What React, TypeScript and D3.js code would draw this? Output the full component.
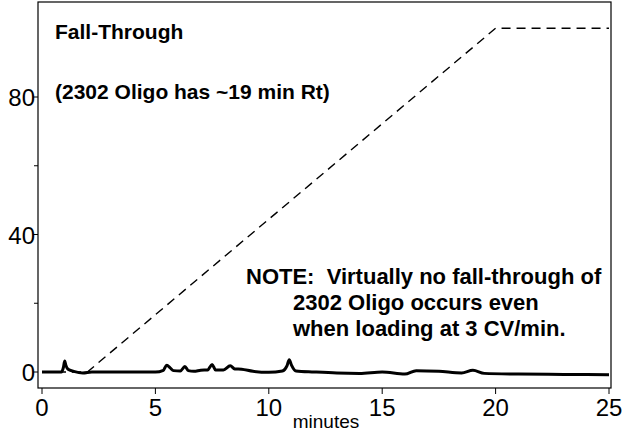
import React from "react";
import * as d3 from "d3";

const traceT = [0, 0.85, 0.95, 1.0, 1.05, 1.15, 1.4, 1.8, 2.2, 3, 4, 5, 5.35, 5.5, 5.65, 5.8, 6.1, 6.3, 6.45, 6.7, 7.0, 7.3, 7.5, 7.65, 8.0, 8.3, 8.5, 8.8, 9.3, 10, 10.6, 10.8, 10.9, 11.0, 11.2, 12, 13, 14, 15, 16, 16.5, 17.5, 18.5, 19, 19.5, 21, 23, 25];
const traceV = [0, 0, 1.5, 3.2, 2, 0.8, 0.2, -0.3, 0, 0, 0, 0, 0.5, 2, 1.2, 0.4, 0.3, 1.6, 0.4, 0.2, 0.5, 0.6, 2.2, 0.6, 0.6, 1.8, 0.9, 0.8, 0.2, -0.1, 0.3, 1.8, 3.6, 2.0, 0.3, 0, -0.3, -0.4, 0, -0.6, 0.4, 0.2, -0.3, 0.5, -0.4, -0.6, -0.7, -0.8];
const gradT = [0, 2, 20, 25];
const gradV = [0, 0, 100, 100];
const xTicks = [0, 5, 10, 15, 20, 25];
const yTicks = [0, 40, 80];
const yMinor = [20, 60];
const noteLines = ["NOTE:  Virtually no fall-through of", "2302 Oligo occurs even", "when loading at 3 CV/min."];

export default function App() {
  const L = 38, R = 611, T = 2, B = 388;
  const x = d3.scaleLinear().domain([0, 25]).range([42, 609]);
  const y = d3.scaleLinear().domain([0, 80]).range([372, 97]);
  const trace = d3.line<number>().x((_, i) => x(traceT[i])).y((_, i) => y(traceV[i])).curve(d3.curveMonotoneX)(traceV);
  const grad = d3.line<number>().x((_, i) => x(gradT[i])).y((_, i) => y(gradV[i]))(gradV);
  const font = "'Liberation Sans', Arial, sans-serif";
  return (
    <svg width={627} height={432} style={{ position: "absolute", left: 0, top: 0 }} fontFamily={font}>
      <rect x={L} y={T} width={R - L} height={B - T} fill="white" stroke="black" strokeWidth={1.2} />
      {xTicks.map(t => (
        <g key={t}>
          <line x1={x(t)} x2={x(t)} y1={B} y2={B + 6} stroke="black" />
          <text x={x(t)} y={416} fontSize={24} textAnchor="middle">{t}</text>
        </g>
      ))}
      {yTicks.map(t => (
        <g key={t}>
          <line x1={L} x2={L - 5} y1={y(t)} y2={y(t)} stroke="black" />
          <text x={L - 3} y={y(t) + 9} fontSize={24} textAnchor="end">{t}</text>
        </g>
      ))}
      {yMinor.map(t => <line key={t} x1={L} x2={L - 4} y1={y(t)} y2={y(t)} stroke="black" />)}
      <text x={326} y={428} fontSize={19} textAnchor="middle">minutes</text>
      <path d={grad!} fill="none" stroke="black" strokeWidth={1.4} strokeDasharray="9,6" />
      <path d={trace!} fill="none" stroke="black" strokeWidth={3} />
      <text x={55} y={39} fontSize={21} fontWeight="bold">Fall-Through</text>
      <text x={55} y={99} fontSize={21} fontWeight="bold">(2302 Oligo has ~19 min Rt)</text>
      {noteLines.map((s, i) => (
        <text key={i} x={i === 0 ? 246 : 293} y={284 + i * 26} fontSize={22} fontWeight="bold" style={{ whiteSpace: "pre" }}>{s}</text>
      ))}
    </svg>
  );
}
